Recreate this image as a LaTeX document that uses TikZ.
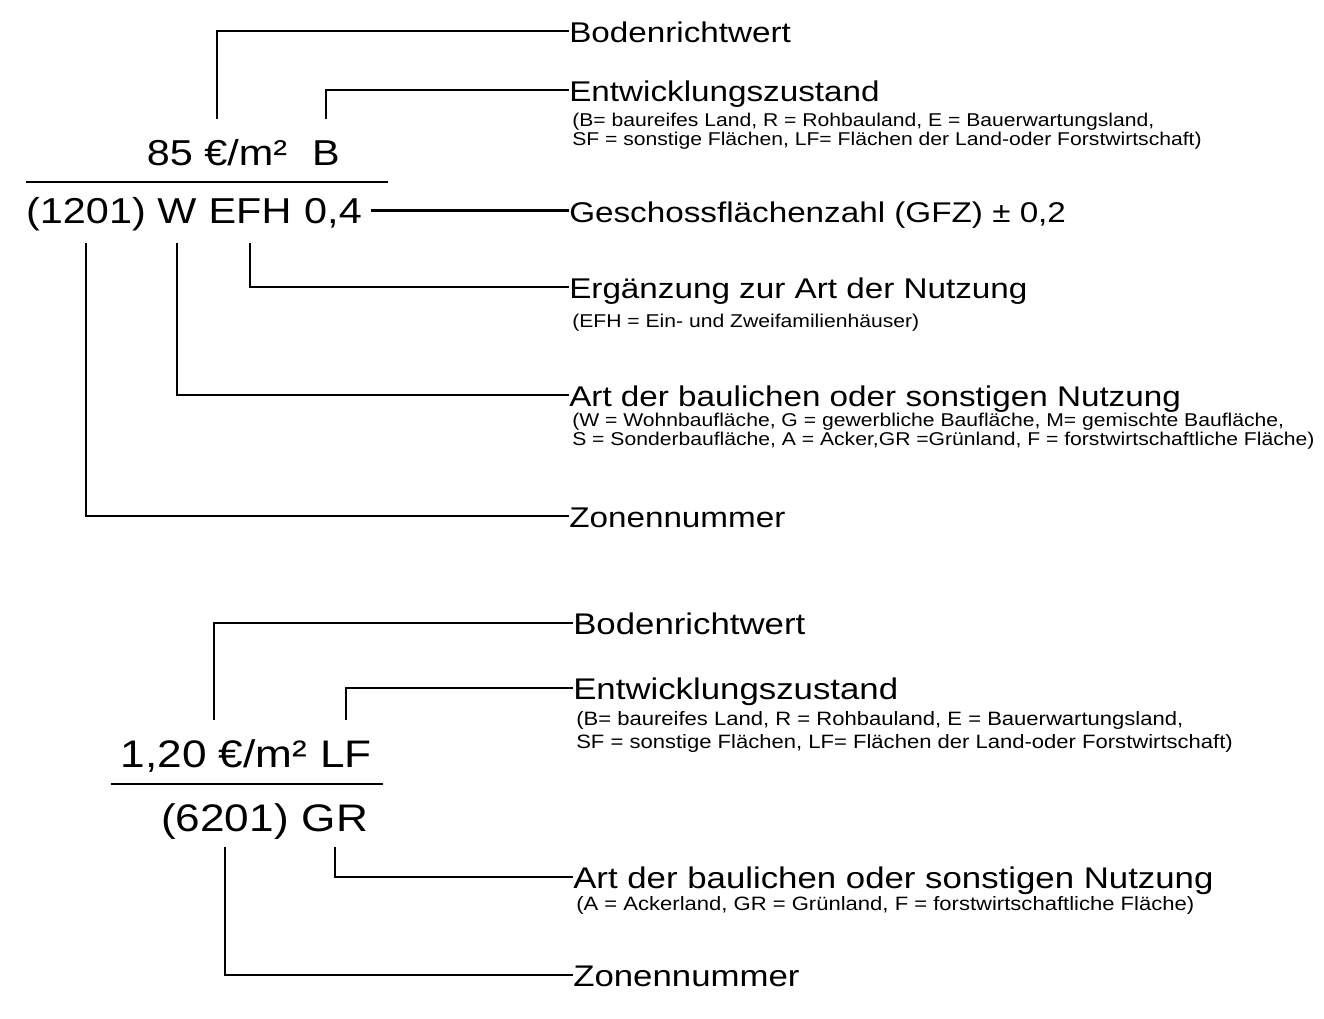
\documentclass[tikz,border=0pt]{standalone}
\usepackage{fontspec}
\setmainfont{Liberation Sans}
\newfontfamily\lblfont[FakeStretch=1.165]{Liberation Sans}
\newfontfamily\notefont[FakeStretch=1.14]{Liberation Sans}
\newfontfamily\zahlfont[FakeStretch=1.15]{Liberation Sans}
\usetikzlibrary{positioning}

\tikzset{
	lbl/.style={anchor=west, inner sep=0pt, text height=16.8pt, text depth=0pt,
		font=\lblfont\fontsize{#1}{#1}\selectfont},
	lbl/.default=21.4pt,
	note/.style={anchor=base west, inner sep=0pt,
		font=\notefont\fontsize{#1}{#1}\selectfont},
	note/.default=13.9pt,
	zahl/.style={anchor=base, inner sep=0pt, outer ysep=15pt, text depth=0pt,
		font=\zahlfont\fontsize{#1}{#1}\selectfont},
	zahl/.default=27pt,
	verb/.style={line width=2.2pt},
	bruch/.style={line width=1.4pt}
}

\begin{document}
\begin{tikzpicture}[x=0.75pt,y=-0.75pt]
			\useasboundingbox (0,0) rectangle (1324,1018);

			% oben: 85 EUR/m2
			\node[zahl, text height=19.4pt] (w1) at (217,165) {85 €/m²};
			\node[zahl, text height=19.4pt] (b1) at (326,165) {B};
			\draw[bruch] (26,182) -- (388,182);
			\node[zahl, text height=19.4pt] (zn1) at (86,223) {(1201)};
			\node[zahl, text height=19.4pt] (art1) at (177,223) {W};
			\node[zahl, text height=19.4pt] (erg1) at (250,223) {EFH};
			\node[zahl, text height=19.4pt, outer xsep=7pt] (gfz1) at (333,223) {0,4};

			\node[lbl] (bw1) at (569,31) {Bodenrichtwert};
			\node[lbl] (ez1) at (569,90) {Entwicklungszustand};
			\node[note] (ez1a) at (572,126) {(B= baureifes Land, R = Rohbauland, E = Bauerwartungsland,};
			\node[note] (ez1b) at (572,145) {SF = sonstige Flächen, LF= Flächen der Land-oder Forstwirtschaft)};
			\node[lbl] (gf1) at (569,211) {Geschossflächenzahl (GFZ) ± 0,2};
			\node[lbl] (ea1) at (569,287) {Ergänzung zur Art der Nutzung};
			\node[note] (ea1a) at (572,327) {(EFH = Ein- und Zweifamilienhäuser)};
			\node[lbl] (an1) at (569,395) {Art der baulichen oder sonstigen Nutzung};
			\node[note] (an1a) at (572,426) {(W = Wohnbaufläche, G = gewerbliche Baufläche, M= gemischte Baufläche,};
			\node[note] (an1b) at (572,445) {S = Sonderbaufläche, A = Acker,GR =Grünland, F = forstwirtschaftliche Fläche)};
			\node[lbl] (zo1) at (569,516) {Zonennummer};

			\draw[verb] (w1.north) |- (bw1.west);
			\draw[verb] (b1.north) |- (ez1.west);
			\draw[verb] (gfz1.east) -- (gfz1.east -| gf1.west);
			\draw[verb] (erg1.south) |- (ea1.west);
			\draw[verb] (art1.south) |- (an1.west);
			\draw[verb] (zn1.south) |- (zo1.west);

			% unten: 1,20 EUR/m2
			\node[zahl=28.8pt, text height=20.6pt] (w2) at (214,767) {1,20 €/m²};
			\node[zahl=28.8pt, text height=20.6pt] (lf2) at (346,767) {LF};
			\draw[bruch] (111,784) -- (383,784);
			\node[zahl=28.8pt, text height=20.6pt, outer ysep=12pt] (zn2) at (225,831) {(6201)};
			\node[zahl=28.8pt, text height=20.6pt, outer ysep=12pt] (gr2) at (335,831) {GR};

			\node[lbl=22.4pt] (bw2) at (573,623) {Bodenrichtwert};
			\node[lbl=22.4pt] (ez2) at (573,688) {Entwicklungszustand};
			\node[note=14.5pt] (ez2a) at (576,725) {(B= baureifes Land, R = Rohbauland, E = Bauerwartungsland,};
			\node[note=14.5pt] (ez2b) at (576,748) {SF = sonstige Flächen, LF= Flächen der Land-oder Forstwirtschaft)};
			\node[lbl=22.4pt] (an2) at (573,877) {Art der baulichen oder sonstigen Nutzung};
			\node[note=14.5pt] (an2a) at (576,910) {(A = Ackerland, GR = Grünland, F = forstwirtschaftliche Fläche)};
			\node[lbl=22.4pt] (zo2) at (573,975) {Zonennummer};

			\draw[verb] (w2.north) |- (bw2.west);
			\draw[verb] (lf2.north) |- (ez2.west);
			\draw[verb] (gr2.south) |- (an2.west);
			\draw[verb] (zn2.south) |- (zo2.west);
		\end{tikzpicture}
\end{document}
